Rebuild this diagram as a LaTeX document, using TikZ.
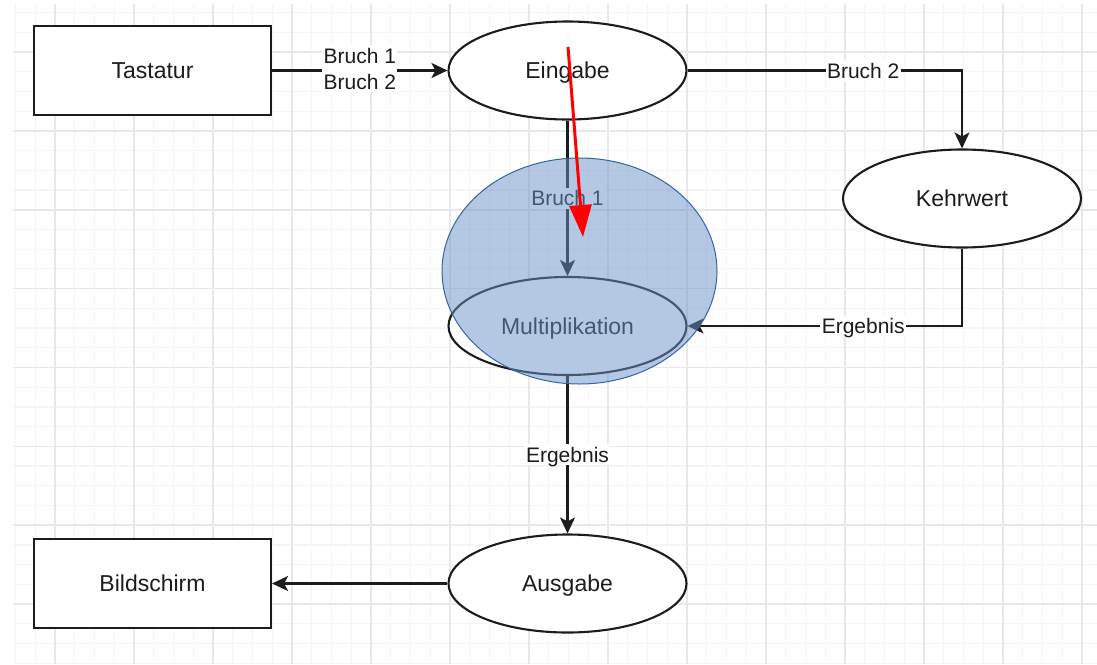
\documentclass[tikz,border=0pt]{standalone}
\usepackage{fontspec}
\setmainfont{Liberation Sans}
\usetikzlibrary{arrows.meta,shapes.geometric}
\definecolor{ink}{RGB}{28,28,28}
\definecolor{gridminor}{RGB}{245,245,245}
\definecolor{gridmajor}{RGB}{232,232,232}
\definecolor{hlfill}{RGB}{108,146,200}
\definecolor{hlline}{RGB}{52,100,165}
\begin{document}
\begin{tikzpicture}[x=1pt,y=-1pt,
  proc/.style={ellipse, draw=ink, line width=2.1pt, fill=white,
    minimum width=238pt, minimum height=98pt, inner sep=0pt,
    text height=16.5pt, text depth=0pt,
    font=\fontsize{23}{27}\selectfont, text=ink},
  term/.style={rectangle, draw=ink, line width=2.2pt, fill=white,
    minimum width=237pt, minimum height=89pt, inner sep=0pt,
    text height=16.5pt, text depth=0pt,
    font=\fontsize{23}{27}\selectfont, text=ink},
  flow/.style={draw=ink, line width=2.1pt,
    -{Stealth[length=16pt,width=15pt,inset=4pt]}},
  lbl/.style={fill=white, inner xsep=1.5pt, inner ysep=3pt, text=ink,
    text height=15pt, text depth=0pt,
    font=\fontsize{21}{26}\selectfont},
  gminor/.style={draw=gridminor, line width=1.2pt},
  gmajor/.style={draw=gridmajor, line width=1.6pt}]

\useasboundingbox (0,0) rectangle (1097,664);
\fill[white] (0,0) rectangle (1097,664);

% background grid: minor lines every quarter of a major cell
\foreach \i in {0,...,54}
  \draw[gminor] ({15.5+19.75*\i},4) -- ({15.5+19.75*\i},664);
\foreach \j in {0,...,33}
  \draw[gminor] (13,{12.6+19.715*\j}) -- (1097,{12.6+19.715*\j});
\foreach \k in {0,...,13}
  \draw[gmajor] ({55+79*\k},4) -- ({55+79*\k},664);
\foreach \k in {0,...,7}
  \draw[gmajor] (13,{52+78.86*\k}) -- (1097,{52+78.86*\k});

% data flow nodes
\node[term] (tastatur)   at (152.5,70.5)  {Tastatur};
\node[proc] (eingabe)    at (567.5,70.5)  {Eingabe};
\node[proc] (kehrwert)   at (962,198.5)   {Kehrwert};
\node[proc] (mult)       at (567.5,326)   {Multiplikation};
\node[proc] (ausgabe)    at (567.5,583.5) {Ausgabe};
\node[term] (bildschirm) at (152.5,583.5) {Bildschirm};

% data flows
\draw[flow] (tastatur) -- node[lbl, align=center, text height=41pt, yshift=2pt]
  {Bruch 1\\Bruch 2} (eingabe);
\draw[flow] (eingabe.east) -| node[lbl, pos=0.32] {Bruch 2} (kehrwert.north);
\draw[flow] (eingabe) -- node[lbl] {Bruch 1} (mult);
\draw[flow] (kehrwert.south) |- node[lbl, pos=0.68] {Ergebnis} (mult.east);
\draw[flow] (mult) -- node[lbl] {Ergebnis} (ausgabe);
\draw[flow] (ausgabe) -- (bildschirm);

% translucent highlight over the multiplication step
\node[ellipse, draw=hlline, line width=1pt, fill=hlfill, fill opacity=0.5,
  minimum width=275pt, minimum height=226pt, inner sep=0pt]
  (focus) at (579.5,271) {};

% red pointer
\coordinate (ptrstart) at (568,47);
\coordinate (ptrtip) at (583,237);
\draw[red, line width=3pt, -{Triangle[length=32pt,width=22pt]}] (ptrstart) -- (ptrtip);
\end{tikzpicture}
\end{document}
